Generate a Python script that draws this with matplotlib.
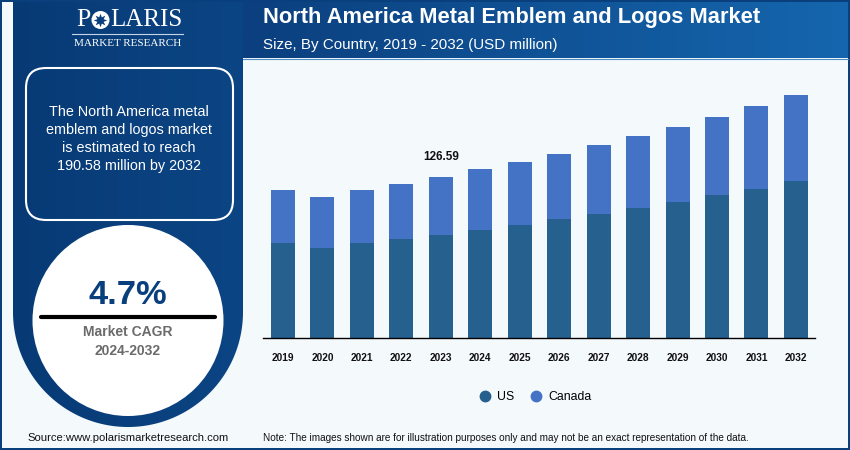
import numpy as np
import matplotlib
matplotlib.use('Agg')
import matplotlib.pyplot as plt
from matplotlib.lines import Line2D
from matplotlib.patches import Circle, FancyBboxPatch, Polygon, Rectangle

# Data
years = ['2019', '2020', '2021', '2022', '2023', '2024', '2025',
         '2026', '2027', '2028', '2029', '2030', '2031', '2032']
us = [74.7, 70.8, 74.7, 77.8, 81.0, 84.9, 88.9, 93.6, 97.5, 102.2, 106.9, 112.4, 117.2, 123.4]
canada = [41.7, 40.1, 41.3, 43.3, 45.59, 48.0, 49.5, 51.1, 54.3, 56.6, 59.0, 61.4, 65.2, 67.18]
label_year = '2023'
label_value = '126.59'

NAVY = '#0a3f7e'
BG = '#f4f9fc'
US_COLOR = '#25608f'
CANADA_COLOR = '#4472c4'

plt.rcParams['font.family'] = ['Liberation Sans', 'DejaVu Sans']

fig = plt.figure(figsize=(8.5, 4.5), dpi=100, facecolor=NAVY)

# Background layer in pixel coordinates
bg = fig.add_axes([0, 0, 1, 1])
bg.set_xlim(0, 850)
bg.set_ylim(450, 0)
bg.axis('off')

bg.add_patch(Rectangle((2, 2), 846, 446, fc=BG, ec='none'))

# Header band
grad = np.linspace(0, 1, 256).reshape(1, -1)
header_cmap = matplotlib.colors.LinearSegmentedColormap.from_list('header', ['#0b3f7e', '#1566ae'])
bg.imshow(grad, extent=(243, 848, 58, 2), cmap=header_cmap, aspect='auto', zorder=1)
bg.plot([243, 848], [58.5, 58.5], color='#4f8cc4', lw=0.8, zorder=1)

# Left panel, a rectangle ending in a half circle
t = np.linspace(0, np.pi, 200)
outline = np.column_stack([128 + 115 * np.cos(t), 312 + 115 * np.sin(t)])
outline = np.vstack([[[243, 2]], outline, [[13, 2]]])
panel = Polygon(outline, closed=True, fc='none', ec='none', transform=bg.transData)
bg.add_patch(panel)
panel_cmap = matplotlib.colors.LinearSegmentedColormap.from_list('panel', ['#073a75', '#0c4584'])
img = bg.imshow(grad, extent=(13, 243, 428, 2), cmap=panel_cmap, aspect='auto', zorder=1)
img.set_clip_path(panel)
bg.set_xlim(0, 850)
bg.set_ylim(450, 0)

# Logo
bg.text(76, 20.5, 'P', color='white', family='Liberation Serif', fontsize=18.5, ha='left', va='center', zorder=3)
bg.add_patch(Circle((100.5, 20), 9, fc='white', ec='none', zorder=3))
bg.scatter([100.5], [20], marker=(8, 1, 0), s=95, color=NAVY, lw=0, zorder=4)
bg.text(110.5, 20.5, 'LARIS', color='white', family='Liberation Serif', fontsize=18, ha='left', va='center', zorder=3)
bg.plot([72, 183], [34, 34], color='#c6d4e6', lw=0.8, zorder=3)
bg.text(128, 43.5, 'MARKET RESEARCH', color='white', family='Liberation Serif', fontsize=8, ha='center', va='center', zorder=3)

# Rounded text box
bg.add_patch(FancyBboxPatch((46, 88), 167, 112, boxstyle='round,pad=20,rounding_size=20',
                            fc='none', ec='white', lw=1.5, zorder=3))
box_lines = ['The North America metal', 'emblem and logos market', 'is estimated to reach', '190.58 million by 2032']
for y, line in zip([112, 130, 148, 166], box_lines):
    bg.text(129, y, line, color='white', fontsize=10.4, ha='center', va='center', zorder=4)

# CAGR circle
bg.add_patch(Circle((128, 320.5), 95.5, fc='white', ec='none', zorder=3))
bg.text(127.5, 295, '4.7%', color=NAVY, fontsize=24.8, fontweight='bold', ha='center', va='center', zorder=4)
bg.plot([41, 215], [316.7, 316.7], color='black', lw=3, solid_capstyle='round', zorder=4)
bg.text(128, 332, 'Market CAGR', color='#6b6b6b', fontsize=10, fontweight='bold', ha='center', va='center', zorder=4)
bg.text(128, 351, '2024-2032', color='#6b6b6b', fontsize=10, fontweight='bold', ha='center', va='center', zorder=4)

# Header and footer text
bg.text(263, 17.5, 'North America Metal Emblem and Logos Market', color='white', fontsize=15.72,
        fontweight='bold', ha='left', va='center', zorder=4)
bg.text(263, 44.5, 'Size, By Country, 2019 - 2032 (USD million)', color='white', fontsize=10.9,
        ha='left', va='center', zorder=4)
bg.text(27, 438, 'Source:www.polarismarketresearch.com', color='#111111', fontsize=8.1,
        ha='left', va='center', zorder=4)
bg.text(263, 438, 'Note: The images shown are for illustration purposes only and may not be an exact representation of the data.',
        color='#111111', fontsize=7.2, ha='left', va='center', zorder=4)

# Chart
ax = fig.add_axes([263 / 850, (450 - 338) / 450, 552 / 850, 280 / 450])
ax.patch.set_alpha(0)
x = np.arange(len(years))
ax.bar(x, us, width=0.608, color=US_COLOR, label='US')
ax.bar(x, canada, width=0.608, bottom=us, color=CANADA_COLOR, label='Canada')
ax.set_xlim(-0.507, 13.485)
ax.set_ylim(0, 220)
ax.set_xticks(x)
ax.set_xticklabels(years, fontsize=7.3, fontweight='bold', color='#111111')
ax.tick_params(axis='x', length=0, pad=11)
ax.set_yticks([])
for side in ['top', 'left', 'right']:
    ax.spines[side].set_visible(False)
ax.spines['bottom'].set_linewidth(1)
ax.spines['bottom'].set_color('black')

i = years.index(label_year)
ax.annotate(label_value, (i, us[i] + canada[i]), xytext=(0, 20), textcoords='offset pixels',
            ha='center', va='center', fontsize=8.5, fontweight='bold', color='#111111')

handles = [Line2D([], [], ls='', marker='o', ms=7.5, color=US_COLOR),
           Line2D([], [], ls='', marker='o', ms=7.5, color=CANADA_COLOR)]
fig.legend(handles, ['US', 'Canada'], ncol=2, frameon=False, fontsize=8.8,
           loc='center', bbox_to_anchor=(532 / 850, (450 - 397) / 450),
           handletextpad=-0.05, columnspacing=0.85)

fig.savefig('out.png', dpi=100, facecolor=fig.get_facecolor())
